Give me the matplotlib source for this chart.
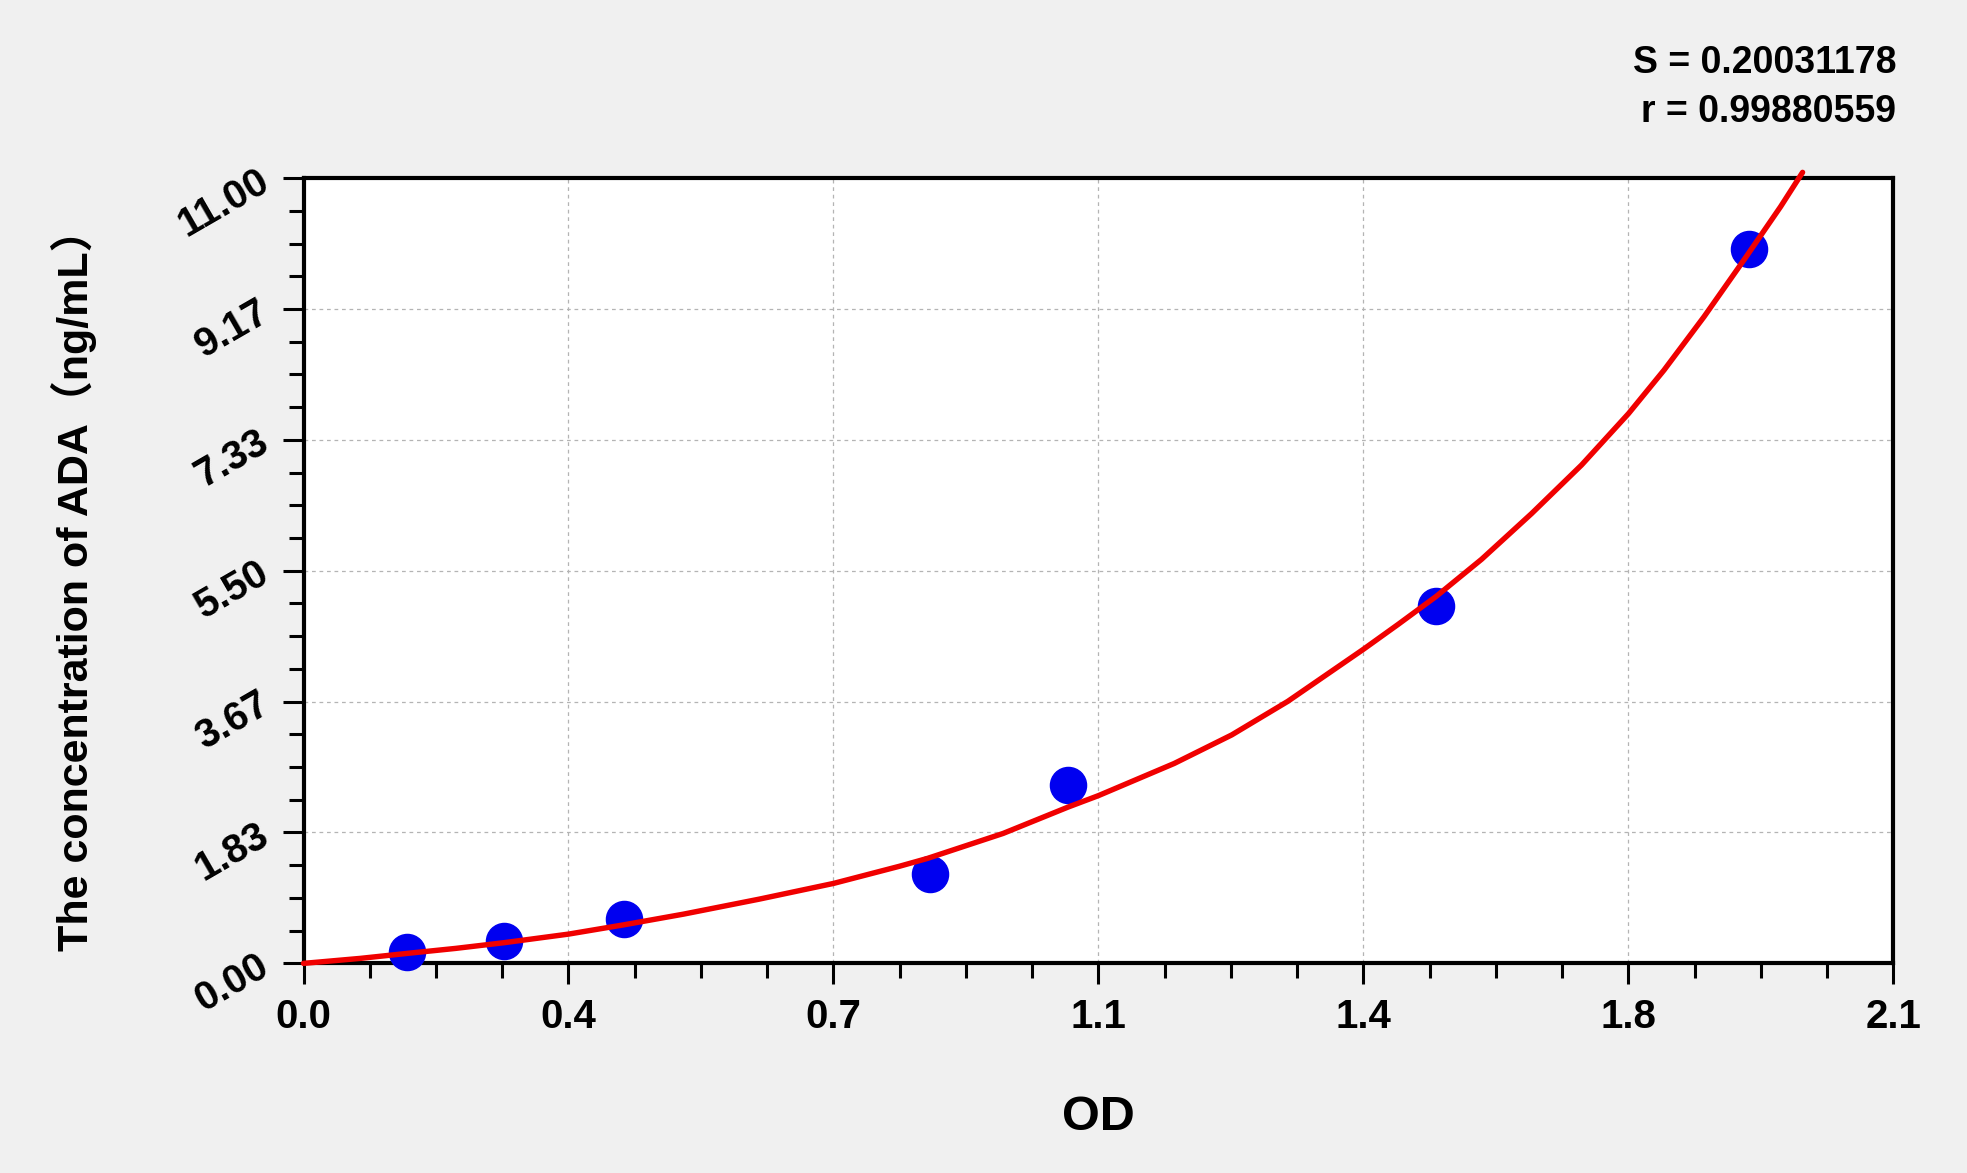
import numpy as np
import matplotlib.pyplot as plt
from matplotlib.ticker import AutoMinorLocator, FixedLocator

# standards (OD, concentration ng/mL)
od = [0.137, 0.265, 0.423, 0.828, 1.010, 1.496, 1.909]
conc = [0.156, 0.3125, 0.625, 1.25, 2.5, 5.0, 10.0]

# fitted curve
curve_x = [0.0, 0.075, 0.137, 0.201, 0.265, 0.35, 0.423, 0.502, 0.602, 0.70,
           0.787, 0.824, 0.924, 1.01, 1.05, 1.15, 1.226, 1.30, 1.40, 1.446,
           1.496, 1.556, 1.622, 1.688, 1.75, 1.797, 1.85, 1.903, 1.951, 1.98]
curve_y = [0.0, 0.07, 0.14, 0.21, 0.29, 0.41, 0.54, 0.69, 0.90, 1.12,
           1.36, 1.47, 1.82, 2.19, 2.35, 2.80, 3.20, 3.67, 4.40, 4.75,
           5.14, 5.66, 6.30, 6.98, 7.70, 8.31, 9.06, 9.86, 10.60, 11.08]

x_ticks = [0.0, 0.35, 0.7, 1.05, 1.4, 1.75, 2.1]
x_tick_labels = ['0.0', '0.4', '0.7', '1.1', '1.4', '1.8', '2.1']
y_ticks = [0.0, 11 / 6, 22 / 6, 5.5, 44 / 6, 55 / 6, 11.0]
y_tick_labels = ['0.00', '1.83', '3.67', '5.50', '7.33', '9.17', '11.00']

S_val = '0.20031178'
r_val = '0.99880559'

plt.rcParams['font.family'] = ['Liberation Sans', 'Noto Sans CJK SC', 'DejaVu Sans']
plt.rcParams['font.weight'] = 'bold'

fig = plt.figure(figsize=(19.67, 11.73), dpi=100, facecolor='#f0f0f0')
ax = fig.add_axes([0.1543, 0.1787, 0.8083, 0.6695])
ax.set_facecolor('white')

ax.plot(od, conc, 'o', color='#0000f0', markersize=26, zorder=3, clip_on=False)
ax.plot(curve_x, curve_y, color='#f00000', lw=3.9, zorder=4, clip_on=False,
        solid_joinstyle='round', solid_capstyle='round')

ax.set_xlim(0, 2.1)
ax.set_ylim(0, 11)
ax.xaxis.set_major_locator(FixedLocator(x_ticks))
ax.yaxis.set_major_locator(FixedLocator(y_ticks))
ax.set_xticklabels(x_tick_labels, fontsize=29, fontweight='bold')
ax.set_yticklabels(y_tick_labels, fontsize=29, fontweight='bold',
                   rotation=30, rotation_mode='anchor', ha='right', va='center')
ax.xaxis.set_minor_locator(AutoMinorLocator(4))
ax.yaxis.set_minor_locator(AutoMinorLocator(4))
ax.tick_params(which='major', direction='out', length=15, width=2.2)
ax.tick_params(which='minor', direction='out', length=11, width=2.2)
ax.tick_params(axis='x', which='major', pad=10)
ax.tick_params(axis='y', which='major', pad=12)

ax.grid(True, which='major', color='#b4b4b4', linestyle=(0, (3, 3)), linewidth=0.9)
for sp in ax.spines.values():
    sp.set_linewidth(3)

ax.set_xlabel('OD', fontsize=35, fontweight='bold')
ax.xaxis.set_label_coords(0.5, -0.167)
ax.set_ylabel('The concentration of ADA（ng/mL）', fontsize=31, fontweight='bold')
ax.yaxis.set_label_coords(-0.13, 0.488)

fig.text(0.964, 0.946, 'S = ' + S_val, ha='right', va='center', fontsize=27, fontweight='bold')
fig.text(0.964, 0.9045, 'r = ' + r_val, ha='right', va='center', fontsize=27, fontweight='bold')

fig.savefig('out.png', dpi=100, facecolor=fig.get_facecolor())
